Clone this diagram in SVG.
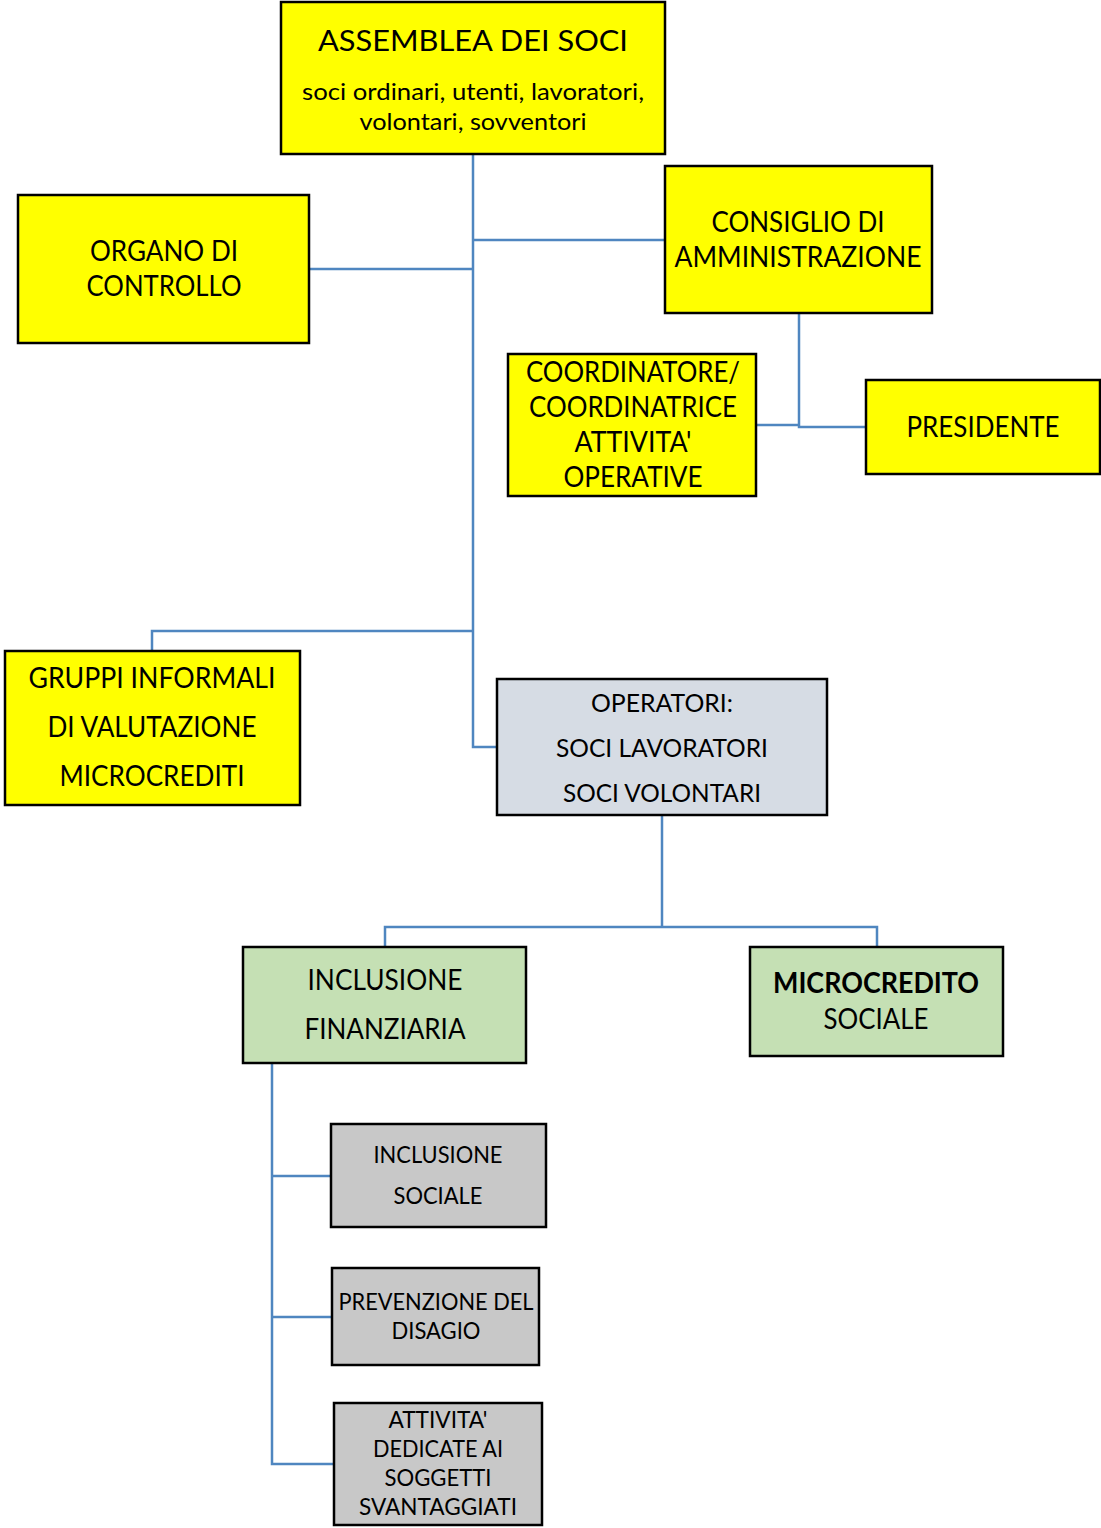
<svg xmlns="http://www.w3.org/2000/svg" width="1101" height="1528" viewBox="0 0 1101 1528">
<style>
.box{stroke:#000;stroke-width:2.5}
.y{fill:#ffff00}
.b{fill:#d6dce4}
.g{fill:#c5e0b4}
.s{fill:#c8c8c8}
text{font-family:Lato,"Open Sans","Liberation Sans",sans-serif;fill:#000;text-anchor:middle;font-variant-ligatures:none;font-feature-settings:"liga" 0}
.f28{font-size:28px}
.f25{font-size:25px}
.f22{font-size:23px}
.f23{font-size:23px}
.con{fill:none;stroke:#4f86c0;stroke-width:2.5}
</style>
<rect width="1101" height="1528" fill="#fff"/>
<g id="connectors">
<path class="con" d="M473,154 V747 H497"/>
<path class="con" d="M473,240 H665"/>
<path class="con" d="M309,269 H473"/>
<path class="con" d="M473,631 H152 V651"/>
<path class="con" d="M799,313 V427 H866"/>
<path class="con" d="M756,425 H799"/>
<path class="con" d="M662,815 V927"/>
<path class="con" d="M385,947 V927 H877 V947"/>
<path class="con" d="M272,1063 V1464 H334"/>
<path class="con" d="M272,1176 H331"/>
<path class="con" d="M272,1317 H332"/>
</g>
<g id="assemblea">
<rect class="box y" x="281" y="2" width="384" height="152"/>
<text class="f28" x="473" y="51" font-size="30" textLength="310" lengthAdjust="spacingAndGlyphs">ASSEMBLEA DEI SOCI</text>
<text class="f23" x="473" y="100" textLength="342" lengthAdjust="spacingAndGlyphs">soci ordinari, utenti, lavoratori,</text>
<text class="f23" x="473" y="130" textLength="227" lengthAdjust="spacingAndGlyphs">volontari, sovventori</text>
</g>
<g id="organo">
<rect class="box y" x="18" y="195" width="291" height="148"/>
<text class="f28" x="164" y="261" textLength="148" lengthAdjust="spacingAndGlyphs">ORGANO DI</text>
<text class="f28" x="164" y="296" textLength="155" lengthAdjust="spacingAndGlyphs">CONTROLLO</text>
</g>
<g id="consiglio">
<rect class="box y" x="665" y="166" width="267" height="147"/>
<text class="f28" x="798" y="232" textLength="173" lengthAdjust="spacingAndGlyphs">CONSIGLIO DI</text>
<text class="f28" x="798" y="267" textLength="247" lengthAdjust="spacingAndGlyphs">AMMINISTRAZIONE</text>
</g>
<g id="coordinatore">
<rect class="box y" x="508" y="354" width="248" height="142"/>
<text class="f28" x="633" y="382" textLength="214" lengthAdjust="spacingAndGlyphs">COORDINATORE/</text>
<text class="f28" x="633" y="417" textLength="208" lengthAdjust="spacingAndGlyphs">COORDINATRICE</text>
<text class="f28" x="633" y="452" textLength="117" lengthAdjust="spacingAndGlyphs">ATTIVITA'</text>
<text class="f28" x="633" y="487" textLength="139" lengthAdjust="spacingAndGlyphs">OPERATIVE</text>
</g>
<g id="presidente">
<rect class="box y" x="866" y="380" width="234" height="94"/>
<text class="f28" x="983" y="437" textLength="153" lengthAdjust="spacingAndGlyphs">PRESIDENTE</text>
</g>
<g id="gruppi">
<rect class="box y" x="5" y="651" width="295" height="154"/>
<text class="f28" x="152" y="688" textLength="247" lengthAdjust="spacingAndGlyphs">GRUPPI INFORMALI</text>
<text class="f28" x="152" y="737" textLength="209" lengthAdjust="spacingAndGlyphs">DI VALUTAZIONE</text>
<text class="f28" x="152" y="786" textLength="185" lengthAdjust="spacingAndGlyphs">MICROCREDITI</text>
</g>
<g id="operatori">
<rect class="box b" x="497" y="679" width="330" height="136"/>
<text class="f25" x="662" y="712" textLength="142" lengthAdjust="spacingAndGlyphs">OPERATORI:</text>
<text class="f25" x="662" y="757" textLength="212" lengthAdjust="spacingAndGlyphs">SOCI LAVORATORI</text>
<text class="f25" x="662" y="802" textLength="198" lengthAdjust="spacingAndGlyphs">SOCI VOLONTARI</text>
</g>
<g id="inclusione-finanziaria">
<rect class="box g" x="243" y="947" width="283" height="116"/>
<text class="f28" x="385" y="990" textLength="155" lengthAdjust="spacingAndGlyphs">INCLUSIONE</text>
<text class="f28" x="385" y="1039" textLength="161" lengthAdjust="spacingAndGlyphs">FINANZIARIA</text>
</g>
<g id="microcredito">
<rect class="box g" x="750" y="947" width="253" height="109"/>
<text class="f28" x="876" y="993" font-weight="bold" textLength="206" lengthAdjust="spacingAndGlyphs">MICROCREDITO</text>
<text class="f28" x="876" y="1029" textLength="105" lengthAdjust="spacingAndGlyphs">SOCIALE</text>
</g>
<g id="inclusione-sociale">
<rect class="box s" x="331" y="1124" width="215" height="103"/>
<text class="f22" x="438" y="1163" textLength="129" lengthAdjust="spacingAndGlyphs">INCLUSIONE</text>
<text class="f22" x="438" y="1204" textLength="89" lengthAdjust="spacingAndGlyphs">SOCIALE</text>
</g>
<g id="prevenzione">
<rect class="box s" x="332" y="1268" width="207" height="97"/>
<text class="f22" x="436" y="1310" textLength="195" lengthAdjust="spacingAndGlyphs">PREVENZIONE DEL</text>
<text class="f22" x="436" y="1339" textLength="89" lengthAdjust="spacingAndGlyphs">DISAGIO</text>
</g>
<g id="attivita-dedicate">
<rect class="box s" x="334" y="1403" width="208" height="122"/>
<text class="f22" x="438" y="1428" textLength="99" lengthAdjust="spacingAndGlyphs">ATTIVITA'</text>
<text class="f22" x="438" y="1457" textLength="130" lengthAdjust="spacingAndGlyphs">DEDICATE AI</text>
<text class="f22" x="438" y="1486" textLength="107" lengthAdjust="spacingAndGlyphs">SOGGETTI</text>
<text class="f22" x="438" y="1515" textLength="158" lengthAdjust="spacingAndGlyphs">SVANTAGGIATI</text>
</g>
</svg>
